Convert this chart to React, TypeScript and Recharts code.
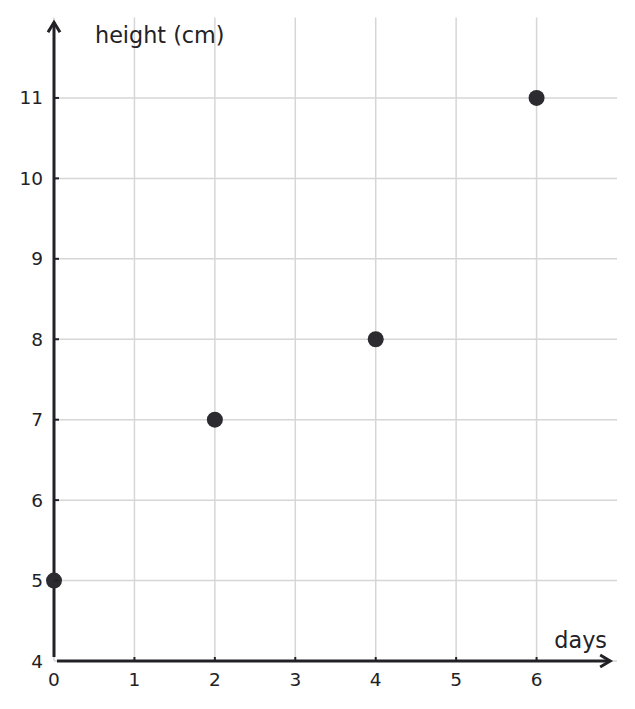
import React from "react";
import { ScatterChart, Scatter, XAxis, YAxis, CartesianGrid, ReferenceLine } from "recharts";

const days = [0, 2, 4, 6];
const heights = [5, 7, 8, 11];
const xTicks = [0, 1, 2, 3, 4, 5, 6];
const yTicks = [4, 5, 6, 7, 8, 9, 10, 11];

const points = days.map((d, i) => ({ x: d, y: heights[i] }));

const INK = "#222226";
const FONT = "DejaVu Sans, sans-serif";

function XTick(props: any) {
  const { x, y, payload, index } = props;
  return (
    <g>
      {index > 0 && <line x1={x} y1={y - 4} x2={x} y2={y} stroke={INK} strokeWidth={2} />}
      <text x={x} y={y + 25} textAnchor="middle" fontSize={18.5} fill={INK} fontFamily={FONT}>
        {payload.value}
      </text>
    </g>
  );
}

function YTick(props: any) {
  const { x, y, payload, index } = props;
  return (
    <g>
      {index > 0 && <line x1={x} y1={y} x2={x + 5} y2={y} stroke={INK} strokeWidth={2} />}
      <text x={x - 11} y={y + 6.5} textAnchor="end" fontSize={18.5} fill={INK} fontFamily={FONT}>
        {payload.value}
      </text>
    </g>
  );
}

function ArrowX(props: any) {
  const { x1, y1, x2, y2 } = props;
  return (
    <g>
      <line x1={x1} y1={y1} x2={x2} y2={y2} stroke={INK} strokeWidth={3} />
      <path d={`M${x2 - 10},${y2 - 6} L${x2},${y2} L${x2 - 10},${y2 + 6}`} fill="none" stroke={INK} strokeWidth={3} />
    </g>
  );
}

function ArrowY(props: any) {
  const { x1, y1, x2, y2 } = props;
  const tipY = Math.min(y1, y2);
  return (
    <g>
      <line x1={x1} y1={y1} x2={x2} y2={y2} stroke={INK} strokeWidth={3} />
      <path d={`M${x1 - 6},${tipY + 10} L${x1},${tipY} L${x1 + 6},${tipY + 10}`} fill="none" stroke={INK} strokeWidth={3} />
    </g>
  );
}

function YTitle(props: any) {
  const vb = props.viewBox;
  return (
    <text x={vb.x + vb.width + 41} y={vb.y + 25.5} fontSize={22.3} fill={INK} fontFamily={FONT}>
      height (cm)
    </text>
  );
}

function XTitle(props: any) {
  const vb = props.viewBox;
  return (
    <text x={vb.x + vb.width - 10} y={vb.y - 13} textAnchor="end" fontSize={22.3} fill={INK} fontFamily={FONT}>
      days
    </text>
  );
}

export default function App() {
  return (
    <div style={{ position: "absolute", left: 0, top: 0, background: "#fff" }}>
      <ScatterChart width={635} height={709} margin={{ top: 17.5, right: 18, bottom: 0, left: 0 }}>
        <CartesianGrid stroke="#d6d6d6" strokeWidth={1.5} syncWithTicks />
        <XAxis
          type="number"
          dataKey="x"
          domain={[0, 7]}
          ticks={xTicks}
          height={48}
          axisLine={false}
          tickLine={false}
          tickSize={0}
          tickMargin={0}
          tick={<XTick />}
          interval={0}
          label={{ value: "days", content: XTitle }}
        />
        <YAxis
          type="number"
          dataKey="y"
          domain={[4, 12]}
          ticks={yTicks}
          width={54}
          axisLine={false}
          tickLine={false}
          tickSize={0}
          tickMargin={0}
          tick={<YTick />}
          interval={0}
          label={{ value: "height (cm)", content: YTitle }}
        />
        <ReferenceLine segment={[{ x: 0.037, y: 4 }, { x: 6.915, y: 4 }]} shape={ArrowX} ifOverflow="visible" />
        <ReferenceLine segment={[{ x: 0, y: 4.05 }, { x: 0, y: 11.94 }]} shape={ArrowY} ifOverflow="visible" />
        <Scatter
          data={points}
          fill="#2b2b30"
          isAnimationActive={false}
          shape={(p: any) => <circle cx={p.cx} cy={p.cy} r={8} fill="#2b2b30" />}
        />
      </ScatterChart>
    </div>
  );
}
